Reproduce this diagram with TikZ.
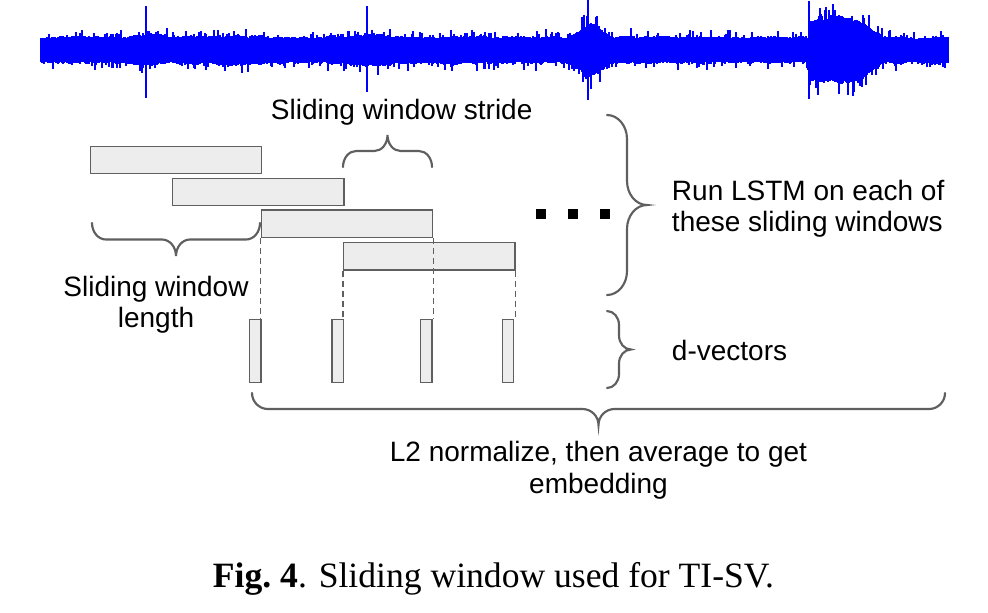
\documentclass[tikz,border=0pt]{standalone}
\usepackage{fontspec}
\setmainfont{Liberation Sans}
\newfontfamily\capfont{Liberation Serif}
\definecolor{wave}{RGB}{0,0,255}
\definecolor{boxfill}{RGB}{237,237,237}
\definecolor{boxline}{RGB}{95,95,95}
\definecolor{bracecol}{RGB}{95,95,95}
\tikzset{
  wavepen/.style={draw=wave, line width=0.95pt},
  winbox/.style={draw=boxline, fill=boxfill, line width=1.1pt, inner sep=0pt, anchor=north west,
    minimum width=128.6pt, minimum height=20.6pt},
  dvec/.style={draw=boxline, fill=boxfill, line width=1.1pt, inner sep=0pt, anchor=north west,
    minimum width=8.6pt, minimum height=47pt},
  dotbox/.style={fill=black, draw=none, inner sep=0pt, minimum size=7.1pt},
  dashpen/.style={draw=boxline, line width=0.8pt, dash pattern=on 4.5pt off 3pt},
  bracepen/.style={draw=bracecol, line width=1.6pt, line cap=round},
  lbl/.style={font=\fontsize{21}{24}\selectfont, inner sep=0pt, anchor=base},
  lblw/.style={font=\fontsize{21}{24}\selectfont, inner sep=0pt, anchor=base west},
}
% horizontal brace: x1, x2, y (ends), d (half depth, sign = direction), w (curl width)
\newcommand\mkhbrace[5]{%
  \pgfmathsetmacro\bxm{(#1+#2)/2}%
  \pgfmathsetmacro\bk{0.5523}%
  \draw[bracepen] (#1,#3)
    .. controls (#1,#3+\bk*#4) and (#1+#5-\bk*#5,#3+#4) .. (#1+#5,#3+#4)
    -- (\bxm-#5,#3+#4)
    .. controls (\bxm-#5+\bk*#5,#3+#4) and (\bxm,#3+2*#4-\bk*#4) .. (\bxm,#3+2*#4)
    .. controls (\bxm,#3+2*#4-\bk*#4) and (\bxm+#5-\bk*#5,#3+#4) .. (\bxm+#5,#3+#4)
    -- (#2-#5,#3+#4)
    .. controls (#2-#5+\bk*#5,#3+#4) and (#2,#3+\bk*#4) .. (#2,#3);}
% vertical brace: y1, y2, x (ends), d (half depth), w (curl height)
\newcommand\mkvbrace[5]{%
  \pgfmathsetmacro\bym{(#1+#2)/2}%
  \pgfmathsetmacro\bk{0.5523}%
  \draw[bracepen] (#3,#1)
    .. controls (#3+\bk*#4,#1) and (#3+#4,#1+#5-\bk*#5) .. (#3+#4,#1+#5)
    -- (#3+#4,\bym-#5)
    .. controls (#3+#4,\bym-#5+\bk*#5) and (#3+2*#4-\bk*#4,\bym) .. (#3+2*#4,\bym)
    .. controls (#3+2*#4-\bk*#4,\bym) and (#3+#4,\bym+#5-\bk*#5) .. (#3+#4,\bym+#5)
    -- (#3+#4,#2-#5)
    .. controls (#3+#4,#2-#5+\bk*#5) and (#3+\bk*#4,#2) .. (#3,#2);}
\begin{document}
\begin{tikzpicture}[x=0.75pt,y=-0.75pt]
\useasboundingbox (0,0) rectangle (988,612);
\fill[white] (0,0) rectangle (988,612);

% ---- waveform ----
\pgfmathsetseed{4242}
\gdef\curup{12}\gdef\curdn{12}
\fill[wave] (41,41) rectangle (948,59);
\foreach \xx in {41,...,948}{
  \pgfmathsetmacro\env{1 + 1.1*max(0,1-abs(\xx-590)/22) + 1.5*(\xx>808)*min(1,max(0,(885-\xx)/30)) + 0.2*max(0,1-abs(\xx-150)/25) + 0.25*max(0,1-abs(\xx-372)/35) + 0.15*max(0,1-abs(\xx-230)/60)}
  \pgfmathsetmacro\nu{0.82*\curup + 0.18*(9.5+6.5*rnd)}
  \pgfmathsetmacro\nd{0.82*\curdn + 0.18*(9.5+6.5*rnd)}
  \xdef\curup{\nu}\xdef\curdn{\nd}
  \pgfmathsetmacro\up{\env*(\nu+8*rnd^9)}
  \pgfmathsetmacro\dn{\env*(\nd+8*rnd^9)}
  \draw[wavepen] (\xx,50-\up) -- (\xx,50+\dn);
}
\draw[wave, line width=1.4pt] (146,6) -- (146,98);
\draw[wave, line width=1.4pt] (367,6) -- (367,92);
\draw[wave, line width=1.4pt] (588,0) -- (588,100);
\draw[wave, line width=1.4pt] (809,1) -- (809,99);

% ---- sliding windows ----
\node[winbox] (w1) at (89.5,145.5) {};
\node[winbox] (w2) at (171.8,177.5) {};
\node[winbox] (w3) at (260.5,209.2) {};
\node[winbox] (w4) at (343,241.7) {};

% ---- d-vectors ----
\node[dvec] (d1) at (249,319) {};
\node[dvec] (d2) at (331.3,319) {};
\node[dvec] (d3) at (420,319) {};
\node[dvec] (d4) at (501.5,319) {};

% ---- dashed guides ----
\draw[dashpen] (w3.south west) -- (w3.south west |- d1.north);
\draw[dashpen] (w4.south west) -- (w4.south west |- d2.north);
\draw[dashpen] (w3.south east) -- (w3.south east |- d3.north);
\draw[dashpen] (w4.south east) -- (w4.south east |- d4.north);

% ---- dots ----
\node[dotbox] (dot1) at (541,214) {};
\node[dotbox] (dot2) at (573,214) {};
\node[dotbox] (dot3) at (605,214) {};

% ---- braces ----
\mkhbrace{343}{432}{167}{-16}{13}
\mkhbrace{92}{260}{223}{16.5}{14}
\mkhbrace{252}{945}{393}{16}{16}
\mkvbrace{115}{295}{607}{20}{24}
\mkvbrace{311}{388}{607}{12}{14}

% ---- labels ----
\node[lbl] (stride) at (401.7,119) {Sliding window stride};
\node[lbl] (len1) at (156,296.7) {Sliding window};
\node[lbl] (len2) at (156,327) {length};
\node[lblw] (run1) at (671.7,200) {Run LSTM on each of};
\node[lblw] (run2) at (671.7,231.7) {these sliding windows};
\node[lblw] (dv) at (671.7,360) {d-vectors};
\node[lbl] (l2a) at (598.5,461) {L2 normalize, then average to get};
\node[lbl] (l2b) at (598.5,493) {embedding};

% ---- caption ----
\node[inner sep=0pt, anchor=base, font=\capfont\fontsize{26.7}{32}\selectfont] (cap) at (493.5,587)
  {\textbf{Fig.~4}. Sliding window used for TI-SV.};
\end{tikzpicture}
\end{document}
